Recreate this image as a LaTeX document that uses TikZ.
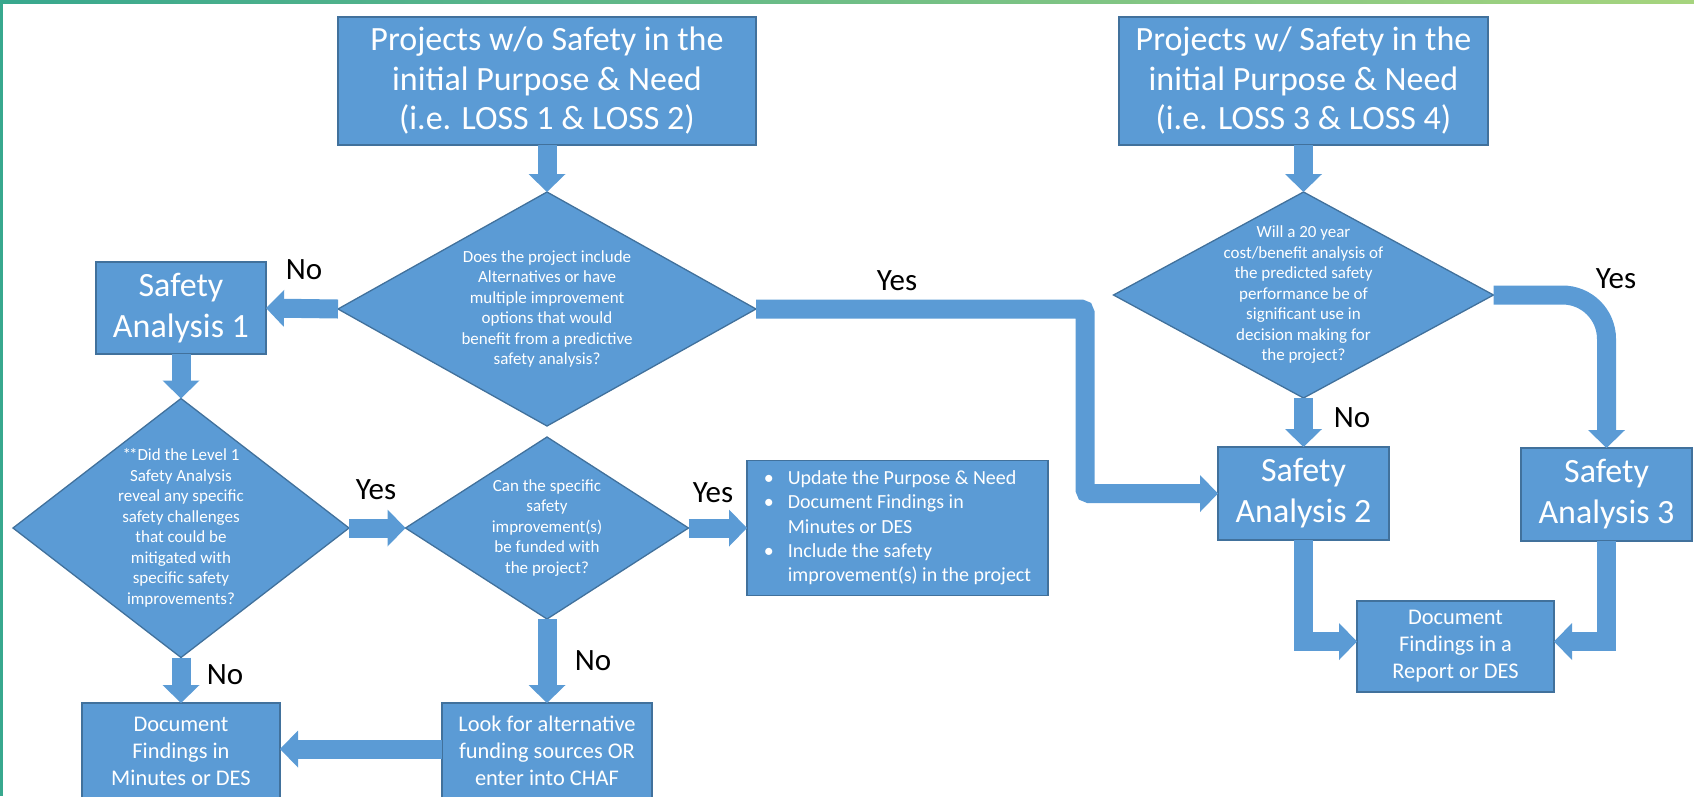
\documentclass[tikz,border=0pt]{standalone}
\usepackage{fontspec}
\setmainfont{Carlito}
\usetikzlibrary{arrows.meta,shapes.geometric}
\definecolor{fillblue}{HTML}{5B9BD5}
\definecolor{edgeblue}{HTML}{41719C}
\definecolor{frameL}{RGB}{56,168,142}
\definecolor{frameR}{RGB}{166,212,126}
\begin{document}
\begin{tikzpicture}[x=1pt,y=-1pt,
  box/.style={draw=edgeblue, line width=1.3pt, fill=fillblue, text=white, align=center, inner sep=0pt, outer sep=0pt},
  bigtxt/.style={font=\fontsize{34}{39.5}\selectfont},
  satxt/.style={font=\fontsize{34}{41}\selectfont},
  midtxt/.style={font=\fontsize{22.4}{27}\selectfont},
  acttxt/.style={font=\fontsize{20}{24.3}\selectfont},
  dia/.style={shape=diamond, draw=edgeblue, line width=1.3pt, fill=fillblue, inner sep=0pt, outer sep=0pt},
  dtext/.style={text=white, align=center, font=\fontsize{17}{20.5}\selectfont, inner sep=0pt},
  lbl/.style={text=black, font=\fontsize{31}{37}\selectfont, inner sep=0pt},
  conn/.style={draw=fillblue, line width=19pt, -{Triangle[width=37pt,length=18pt,line width=0pt]}},
]
\useasboundingbox (0,0) rectangle (1694,796);
\clip (0,0) rectangle (1694,796);
\shade[left color=frameL, right color=frameR] (0,0) rectangle (1694,3);
\fill[frameL] (0,0) rectangle (3,796);

% left column
\node[box,bigtxt,minimum width=418pt,minimum height=128pt] (b1) at (547,81) {Projects w/o Safety in the\\initial Purpose \& Need\\(i.e. LOSS 1 \& LOSS 2)};
\node[dia,minimum width=418pt,minimum height=234pt] (d1) at (547,309) {};
\node[dtext] (d1t) at (d1.center) {Does the project include\\Alternatives or have\\multiple improvement\\options that would\\benefit from a predictive\\safety analysis?};
\node[box,satxt,minimum width=170pt,minimum height=92pt] (sa1) at (181,308) {Safety\\Analysis 1};
\node[dia,minimum width=336pt,minimum height=259pt] (d2) at (181,528) {};
\node[dtext] (d2t) at (d2.center) {*\kern-2pt*Did the Level 1\\Safety Analysis\\reveal any specific\\safety challenges\\that could be\\mitigated with\\specific safety\\improvements?};
\node[dia,minimum width=283pt,minimum height=182pt] (d4) at (547,528) {};
\node[dtext] (d4t) at (d4.center) {Can the specific\\safety\\improvement(s)\\be funded with\\the project?};
\node[box,acttxt,align=left,minimum width=301pt,minimum height=135pt] (act) at (897.5,528) {\makebox[24pt][l]{\textbullet}Update the Purpose \& Need\\\makebox[24pt][l]{\textbullet}Document Findings in\\\hspace*{24pt}Minutes or DES\\\makebox[24pt][l]{\textbullet}Include the safety\\\hspace*{24pt}improvement(s) in the project};
\node[box,midtxt,minimum width=198pt,minimum height=96pt] (min) at (181,751) {Document\\Findings in\\Minutes or DES};
\node[box,midtxt,minimum width=210pt,minimum height=96pt] (look) at (547,751) {Look for alternative\\funding sources OR\\enter into CHAF};

% right column
\node[box,bigtxt,minimum width=369pt,minimum height=128pt] (b2) at (1303.5,81) {Projects w/ Safety in the\\initial Purpose \& Need\\(i.e. LOSS 3 \& LOSS 4)};
\node[dia,minimum width=380pt,minimum height=206pt] (d3) at (1303.5,295) {};
\node[dtext] (d3t) at (d3.center) {Will a 20 year\\cost/benefit analysis of\\the predicted safety\\performance be of\\significant use in\\decision making for\\the project?};
\node[box,satxt,minimum width=171pt,minimum height=93pt] (sa2) at (1303.5,493.5) {Safety\\Analysis 2};
\node[box,satxt,minimum width=171pt,minimum height=93pt] (sa3) at (1606.5,494.5) {Safety\\Analysis 3};
\node[box,midtxt,minimum width=197pt,minimum height=91pt] (rep) at (1455.5,646.5) {Document\\Findings in a\\Report or DES};

% connectors
\coordinate (yc) at (1085,0);
\draw[conn] (b1.south) -- (d1.north);
\draw[conn] (d1.west) -- (sa1.east);
\draw[conn] (sa1.south) -- (d2.north);
\draw[conn] (d2.east) -- (d4.west);
\draw[conn] (d4.east) -- (act.west);
\draw[conn] (d2.south) -- (min.north);
\draw[conn] (d4.south) -- (look.north);
\draw[conn] ([yshift=2pt]look.west) -- ([yshift=2pt]min.east);
\draw[conn, rounded corners=4pt] (d1.east) -| (yc |- sa2.west) -- (sa2.west);
\draw[conn] (b2.south) -- (d3.north);
\draw[conn] (d3.south) -- (sa2.north);
\draw[conn, rounded corners=44pt] (d3.east) -| (sa3.north);
\draw[conn] (sa2.south) |- ([yshift=5pt]rep.west);
\draw[conn] (sa3.south) |- ([yshift=5pt]rep.east);

% labels
\node[lbl] (l1) at (304,270) {No};
\node[lbl] (l2) at (897,281) {Yes};
\node[lbl] (l3) at (1352,418) {No};
\node[lbl] (l4) at (1616,279) {Yes};
\node[lbl] (l5) at (376,490) {Yes};
\node[lbl] (l6) at (713,493) {Yes};
\node[lbl] (l7) at (593,661) {No};
\node[lbl] (l8) at (225,675) {No};
\end{tikzpicture}
\end{document}
